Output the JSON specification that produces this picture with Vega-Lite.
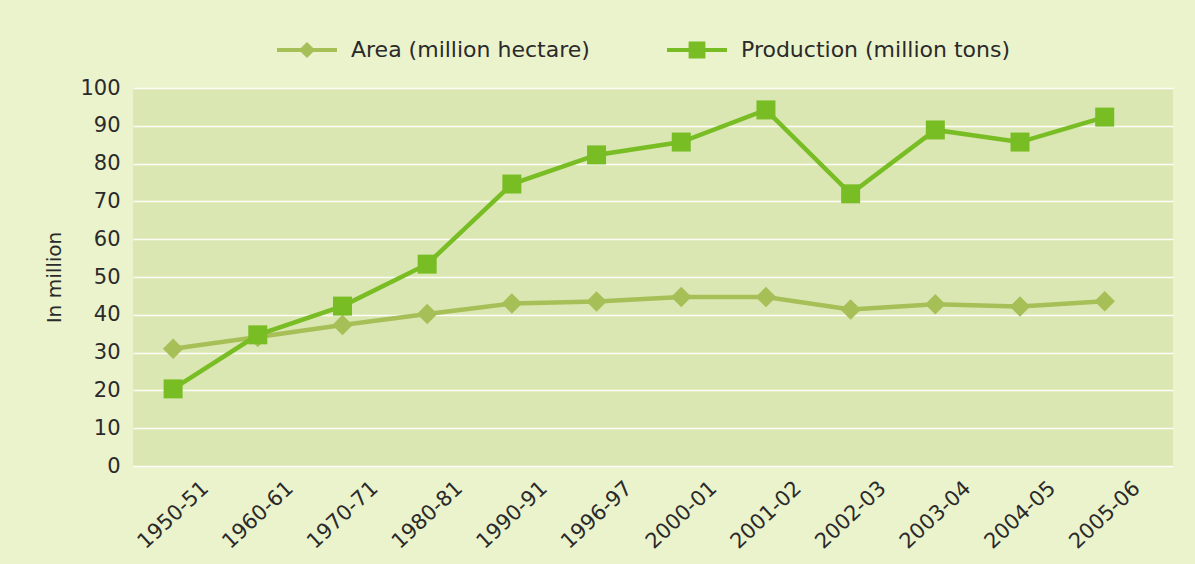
{
  "$schema": "https://vega.github.io/schema/vega-lite/v6.json",
  "width": 1040,
  "height": 378,
  "autosize": {"type": "none"},
  "padding": {"left": 133, "top": 88, "right": 22, "bottom": 98},
  "background": "#ebf3cd",
  "config": {
    "view": {"fill": "#dbe7b2", "stroke": null},
    "font": "DejaVu Sans"
  },
  "data": {
    "values": [
      {"period": "1950-51", "series": "Area (million hectare)", "value": 31.0},
      {"period": "1960-61", "series": "Area (million hectare)", "value": 34.1},
      {"period": "1970-71", "series": "Area (million hectare)", "value": 37.3},
      {"period": "1980-81", "series": "Area (million hectare)", "value": 40.2},
      {"period": "1990-91", "series": "Area (million hectare)", "value": 43.0},
      {"period": "1996-97", "series": "Area (million hectare)", "value": 43.5},
      {"period": "2000-01", "series": "Area (million hectare)", "value": 44.7},
      {"period": "2001-02", "series": "Area (million hectare)", "value": 44.7},
      {"period": "2002-03", "series": "Area (million hectare)", "value": 41.4},
      {"period": "2003-04", "series": "Area (million hectare)", "value": 42.8},
      {"period": "2004-05", "series": "Area (million hectare)", "value": 42.2},
      {"period": "2005-06", "series": "Area (million hectare)", "value": 43.6},
      {"period": "1950-51", "series": "Production (million tons)", "value": 20.4},
      {"period": "1960-61", "series": "Production (million tons)", "value": 34.7},
      {"period": "1970-71", "series": "Production (million tons)", "value": 42.3},
      {"period": "1980-81", "series": "Production (million tons)", "value": 53.4},
      {"period": "1990-91", "series": "Production (million tons)", "value": 74.6},
      {"period": "1996-97", "series": "Production (million tons)", "value": 82.3},
      {"period": "2000-01", "series": "Production (million tons)", "value": 85.7},
      {"period": "2001-02", "series": "Production (million tons)", "value": 94.2},
      {"period": "2002-03", "series": "Production (million tons)", "value": 72.0},
      {"period": "2003-04", "series": "Production (million tons)", "value": 88.9},
      {"period": "2004-05", "series": "Production (million tons)", "value": 85.7},
      {"period": "2005-06", "series": "Production (million tons)", "value": 92.3}
    ]
  },
  "encoding": {
    "x": {
      "field": "period",
      "type": "ordinal",
      "sort": null,
      "scale": {"type": "point", "padding": 0.64, "align": 0.37},
      "axis": {
        "title": null,
        "grid": false,
        "domain": false,
        "ticks": false,
        "labelAngle": -43,
        "labelAlign": "center",
        "labelBaseline": "middle",
        "labelFontSize": 21,
        "labelColor": "#2a2a2a",
        "labelPadding": 49
      }
    },
    "y": {
      "field": "value",
      "type": "quantitative",
      "scale": {"domain": [0, 100]},
      "axis": {
        "title": "In million",
        "titleFontSize": 20,
        "titleFontWeight": "normal",
        "titleColor": "#2a2a2a",
        "titlePadding": 15,
        "values": [0, 10, 20, 30, 40, 50, 60, 70, 80, 90, 100],
        "domain": false,
        "ticks": false,
        "grid": true,
        "gridColor": "#ffffff",
        "gridWidth": 1.5,
        "gridOpacity": 0.9,
        "labelFontSize": 21,
        "labelColor": "#2a2a2a",
        "labelPadding": 13
      }
    },
    "color": {
      "field": "series",
      "type": "nominal",
      "scale": {
        "domain": ["Area (million hectare)", "Production (million tons)"],
        "range": ["#a6bf57", "#79bd25"]
      },
      "legend": {
        "title": null,
        "orient": "none",
        "direction": "horizontal",
        "legendX": 144,
        "legendY": -68,
        "symbolSize": 3600,
        "symbolType": "square",
        "symbolStrokeWidth": 0,
        "labelFontSize": 22,
        "labelLimit": 500,
        "labelColor": "#2a2a2a",
        "labelOffset": 14,
        "columnPadding": 77,
        "encode": {
          "symbols": {
            "update": {
              "shape": {"signal": "datum.value === 'Area (million hectare)' ? 'M-1,-0.065H1V0.065H-1Z M0,-0.27L0.27,0L0,0.27L-0.27,0Z' : 'M-1,-0.065H1V0.065H-1Z M-0.28,-0.28H0.28V0.28H-0.28Z'"},
              "fill": {"signal": "scale('color', datum.value)"},
              "fillOpacity": {"value": 1},
              "strokeWidth": {"value": 0}
            }
          }
        }
      }
    }
  },
  "layer": [
    {"mark": {"type": "line", "strokeWidth": 4.5}},
    {
      "transform": [{"filter": "datum.series === 'Area (million hectare)'"}],
      "mark": {"type": "point", "shape": "diamond", "size": 420, "filled": true, "opacity": 1}
    },
    {
      "transform": [{"filter": "datum.series === 'Production (million tons)'"}],
      "mark": {"type": "point", "shape": "square", "size": 361, "filled": true, "opacity": 1}
    }
  ]
}
